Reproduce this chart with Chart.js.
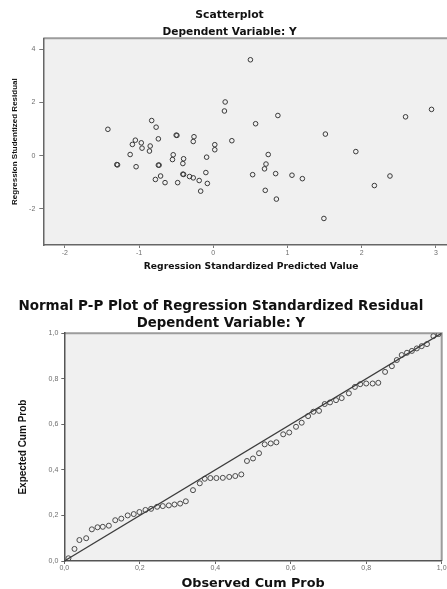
<!DOCTYPE html>
<html>
<head>
<meta charset="utf-8">
<script src="https://cdn.jsdelivr.net/npm/chart.js@4.4.1/dist/chart.umd.min.js"></script>
<style>
  html, body { margin: 0; padding: 0; background: #fff; overflow: hidden; width: 447px; height: 589px; }
  canvas { position: absolute; left: 0; }
  #scatter-chart { top: 0; }
  #pp-chart { top: 285px; }
</style>
</head>
<body>
<canvas id="scatter-chart" width="472" height="285"></canvas>
<canvas id="pp-chart" width="447" height="310"></canvas>
<script>
// ------------------------------------------------------
// @Data
// ------------------------------------------------------

// Scatterplot: standardized predicted value (x) vs studentized residual (y)
const predicted = [
  -1.42, -0.83, -0.77, -1.05, -1.09, -0.97, -0.96, -0.85, -0.86, -0.74,
  -0.50, -0.49, -0.26, -0.27, 0.02, 0.02, 0.16, 0.15, 0.25, -1.12,
  -1.30, -1.29, -1.04, -0.74, -0.73, -0.54, -0.55, -0.40, -0.41, -0.09,
  -0.71, -0.78, -0.65, -0.48, -0.41, -0.40, -0.32, -0.27, -0.19, -0.10,
  -0.08, -0.17, 0.50, 0.87, 0.57, 1.51, 2.59, 2.94, 1.92, 0.74,
  0.71, 0.69, 0.53, 0.84, 1.06, 1.20, 0.70, 0.85, 1.49, 2.38, 2.17
];
const residual = [
  0.99, 1.32, 1.07, 0.58, 0.42, 0.48, 0.28, 0.36, 0.17, 0.63,
  0.77, 0.76, 0.71, 0.53, 0.41, 0.22, 2.02, 1.68, 0.56, 0.04,
  -0.34, -0.35, -0.42, -0.36, -0.36, 0.03, -0.15, -0.12, -0.30, -0.06,
  -0.77, -0.90, -1.02, -1.02, -0.70, -0.71, -0.79, -0.84, -0.94, -0.64,
  -1.05, -1.34, 3.61, 1.51, 1.20, 0.81, 1.46, 1.74, 0.15, 0.04,
  -0.32, -0.50, -0.72, -0.68, -0.74, -0.87, -1.31, -1.64, -2.37, -0.77, -1.13
];
const scatterXTicks = [-2, -1, 0, 1, 2, 3];
const scatterYTicks = [-2, 0, 2, 4];

// Normal P-P plot: observed vs expected cumulative probability
const observedCum = [
  0.011, 0.027, 0.040, 0.058, 0.073, 0.088, 0.102, 0.118, 0.135, 0.151,
  0.168, 0.184, 0.199, 0.215, 0.230, 0.246, 0.261, 0.277, 0.292, 0.307,
  0.322, 0.341, 0.359, 0.372, 0.387, 0.403, 0.420, 0.437, 0.453, 0.469,
  0.484, 0.500, 0.516, 0.531, 0.547, 0.562, 0.580, 0.596, 0.614, 0.629,
  0.646, 0.660, 0.675, 0.690, 0.704, 0.720, 0.735, 0.754, 0.770, 0.784,
  0.800, 0.817, 0.832, 0.850, 0.868, 0.881, 0.894, 0.908, 0.921, 0.934,
  0.947, 0.961, 0.978, 0.992
];
const expectedCum = [
  0.012, 0.053, 0.092, 0.100, 0.139, 0.148, 0.150, 0.155, 0.179, 0.186,
  0.200, 0.206, 0.215, 0.224, 0.229, 0.238, 0.241, 0.244, 0.248, 0.252,
  0.262, 0.311, 0.341, 0.361, 0.364, 0.364, 0.365, 0.369, 0.373, 0.380,
  0.439, 0.450, 0.473, 0.512, 0.516, 0.521, 0.556, 0.564, 0.589, 0.607,
  0.636, 0.655, 0.659, 0.689, 0.696, 0.706, 0.715, 0.736, 0.764, 0.776,
  0.779, 0.779, 0.782, 0.830, 0.855, 0.882, 0.904, 0.914, 0.922, 0.933,
  0.943, 0.952, 0.987, 0.996
];
const ppTicks = [0, 0.2, 0.4, 0.6, 0.8, 1.0];
const refLine = [0, 1];

// ------------------------------------------------------
// @Shared bits
// ------------------------------------------------------

const TITLE_FONT = 'DejaVu Sans';
const AXIS_FONT = 'Liberation Sans';
const TICK_FONT = 'Liberation Sans';

// grey plot background and the light frame on top / right
const plotFrame = {
  id: 'plotFrame',
  beforeDraw(chart) {
    const { ctx, chartArea: a } = chart;
    ctx.save();
    ctx.fillStyle = '#f0f0f0';
    ctx.fillRect(a.left, a.top, a.right - a.left, a.bottom - a.top);
    ctx.strokeStyle = '#9c9c9c';
    ctx.lineWidth = 2;
    ctx.beginPath();
    ctx.moveTo(a.left, a.top);
    ctx.lineTo(a.right, a.top);
    ctx.lineTo(a.right, a.bottom);
    ctx.stroke();
    ctx.restore();
  }
};

function fixedTicks(values) {
  return function (scale) {
    scale.ticks = values.map(v => ({ value: v }));
  };
}

function toPoints(xs, ys) {
  return xs.map((x, i) => ({ x: x, y: ys[i] }));
}

function tickStyle(cb) {
  return {
    font: { family: TICK_FONT, size: 7 },
    color: '#6e6e6e',
    maxRotation: 0,
    autoSkip: false,
    callback: cb
  };
}

// ------------------------------------------------------
// @Scatterplot
// ------------------------------------------------------

new Chart(document.getElementById('scatter-chart'), {
  type: 'scatter',
  data: {
    datasets: [{
      data: toPoints(predicted, residual),
      pointRadius: 2.3,
      pointBorderWidth: 1,
      pointBorderColor: '#3a3a3a',
      pointBackgroundColor: 'rgba(0,0,0,0)'
    }]
  },
  options: {
    responsive: false,
    animation: false,
    layout: { padding: { top: 0, right: 13, bottom: 0, left: 0 } },
    plugins: {
      legend: { display: false },
      tooltip: { enabled: false },
      title: {
        display: true,
        text: 'Scatterplot',
        color: '#111',
        font: { family: TITLE_FONT, size: 10.8, weight: 'bold' },
        padding: { top: 9, bottom: 0 }
      },
      subtitle: {
        display: true,
        text: 'Dependent Variable: Y',
        color: '#111',
        font: { family: TITLE_FONT, size: 10.6, weight: 'bold' },
        padding: { top: 3.6, bottom: 0 }
      }
    },
    scales: {
      x: {
        type: 'linear',
        min: -2.29,
        max: 3.31,
        afterBuildTicks: fixedTicks(scatterXTicks),
        afterFit: s => { s.height = 40; },
        grid: { drawOnChartArea: false, drawTicks: true, tickLength: 3, color: '#777' },
        border: { color: '#666', width: 1.5 },
        ticks: Object.assign(tickStyle(v => v), { padding: 1 }),
        title: {
          display: true,
          text: 'Regression Standardized Predicted Value',
          color: '#111',
          font: { family: TITLE_FONT, size: 9.2, weight: 'bold' },
          padding: { top: 0, bottom: 13 }
        }
      },
      y: {
        type: 'linear',
        min: -3.37,
        max: 4.42,
        afterBuildTicks: fixedTicks(scatterYTicks),
        afterFit: s => { s.width = 43.3; },
        grid: { drawOnChartArea: false, drawTicks: true, tickLength: 4, color: '#777' },
        border: { color: '#666', width: 1.5 },
        ticks: Object.assign(tickStyle(v => v), { padding: 4 }),
        title: {
          display: true,
          text: 'Regression Studentized Residual',
          color: '#111',
          font: { family: AXIS_FONT, size: 8, weight: 'bold' },
          padding: { top: 10.2, bottom: 0 }
        }
      }
    }
  },
  plugins: [plotFrame]
});

// ------------------------------------------------------
// @Normal P-P Plot
// ------------------------------------------------------

const commaLabel = v => v.toFixed(1).replace('.', ',');

new Chart(document.getElementById('pp-chart'), {
  type: 'scatter',
  data: {
    datasets: [{
      type: 'line',
      data: toPoints(refLine, refLine),
      borderColor: '#3c3c3c',
      borderWidth: 1.3,
      pointRadius: 0,
      fill: false
    }, {
      data: toPoints(observedCum, expectedCum),
      pointRadius: 2.5,
      pointBorderWidth: 1,
      pointBorderColor: '#4a4a4a',
      pointBackgroundColor: 'rgba(0,0,0,0)'
    }]
  },
  options: {
    responsive: false,
    animation: false,
    layout: { padding: { top: 0, right: 5.3, bottom: 0, left: 0 } },
    plugins: {
      legend: { display: false },
      tooltip: { enabled: false },
      title: {
        display: true,
        text: 'Normal P-P Plot of Regression Standardized Residual',
        color: '#111',
        font: { family: TITLE_FONT, size: 13.5, weight: 'bold' },
        padding: { top: 13.2, bottom: 0 }
      },
      subtitle: {
        display: true,
        text: 'Dependent Variable: Y',
        color: '#111',
        font: { family: TITLE_FONT, size: 13.3, weight: 'bold' },
        padding: { top: 1.3, bottom: 1.5 }
      }
    },
    scales: {
      x: {
        type: 'linear',
        min: 0,
        max: 1,
        afterBuildTicks: fixedTicks(ppTicks),
        afterFit: s => { s.height = 34; },
        grid: { drawOnChartArea: false, drawTicks: true, tickLength: 3, color: '#666' },
        border: { color: '#555', width: 1.5 },
        ticks: Object.assign(tickStyle(commaLabel), { padding: 0 }),
        title: {
          display: true,
          text: 'Observed Cum Prob',
          color: '#111',
          font: { family: TITLE_FONT, size: 12.8, weight: 'bold' },
          padding: { top: 0, bottom: 3.5 }
        }
      },
      y: {
        type: 'linear',
        min: 0,
        max: 1,
        afterBuildTicks: fixedTicks(ppTicks),
        afterFit: s => { s.width = 64.3; },
        grid: { drawOnChartArea: false, drawTicks: true, tickLength: 3, color: '#666' },
        border: { color: '#555', width: 1.5 },
        ticks: Object.assign(tickStyle(commaLabel), { padding: 3 }),
        title: {
          display: true,
          text: 'Expected Cum Prob',
          color: '#111',
          font: { family: AXIS_FONT, size: 10, weight: 'bold' },
          padding: { top: 17, bottom: 0 }
        }
      }
    }
  },
  plugins: [plotFrame]
});
</script>
</body>
</html>
